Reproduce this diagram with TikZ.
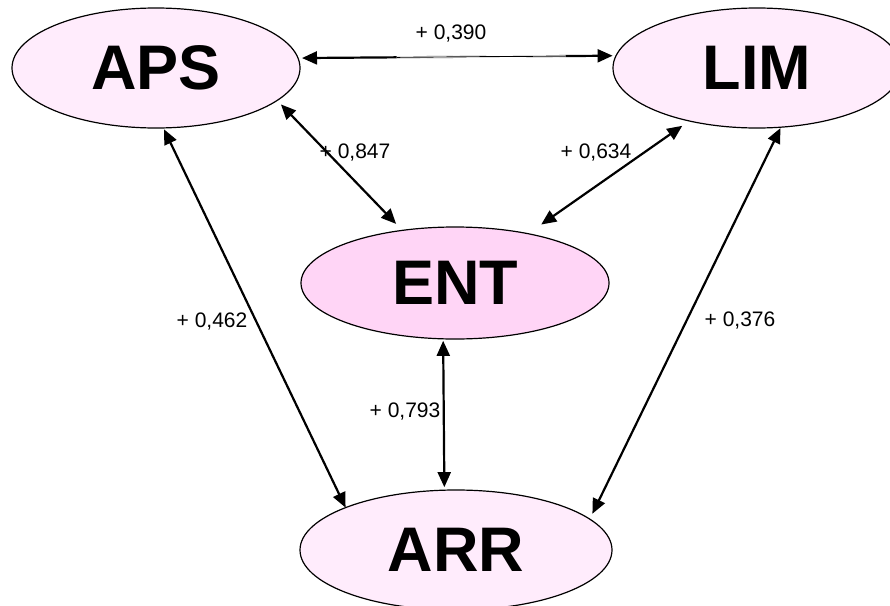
\documentclass[tikz,border=0pt]{standalone}
\usepackage{fontspec}
\setmainfont{Liberation Sans}
\usetikzlibrary{shapes.geometric,arrows.meta}
\definecolor{lightpink}{RGB}{255,236,252}
\definecolor{entpink}{RGB}{255,213,246}
\begin{document}
\begin{tikzpicture}[x=1pt,y=-1pt,
  var/.style={ellipse, draw, line width=1.2pt, inner sep=0pt, outer sep=0pt,
    font=\fontsize{63}{63}\selectfont\bfseries},
  conn/.style={{Triangle[length=15pt,width=13pt]}-{Triangle[length=15pt,width=13pt]},
    line width=2.2pt},
  lab/.style={font=\fontsize{21}{21}\selectfont, inner sep=0pt, text depth=0pt}]
\useasboundingbox (0,0) rectangle (890,605);
\fill[white] (0,0) rectangle (890,605);
% variables
\node[var, fill=lightpink, minimum width=288pt, minimum height=120pt] (APS) at (156,68) {APS};
\node[var, fill=lightpink, minimum width=288pt, minimum height=120pt] (LIM) at (757,68) {LIM};
\node[var, fill=entpink, minimum width=308pt, minimum height=112pt] (ENT) at (455,283) {ENT};
\node[var, fill=lightpink, minimum width=312pt, minimum height=120pt] (ARR) at (456,550) {ARR};
% connectors
\draw[conn, shorten <=4pt, shorten >=3.5pt] (APS.4.44) -- coordinate[pos=.31] (m1) coordinate[pos=.841] (m2) (LIM.175.56);
\draw[white, line width=2.8pt] (m1) -- (m2);
\draw[black, line width=0.9pt] (m1) -- (m2);
\draw[conn, shorten <=5.5pt, shorten >=9pt] (APS.-15.4) -- (ENT.135.05);
\draw[conn, shorten <=8.5pt, shorten >=16pt] (LIM.218.5) -- (ENT.34.6);
\draw[conn, shorten <=1.5pt, shorten >=0pt] (APS.-83.8) -- (ARR.159.3);
\draw[conn, shorten <=1pt, shorten >=6pt] (LIM.-68.6) -- (ARR.13.86);
\draw[conn, shorten <=2pt, shorten >=3pt] (ENT.258.8) -- (ARR.101.3);
% labels
\node[lab] (l1) at (451,32) {+ 0,390};
\node[lab] (l2) at (355,151) {+ 0,847};
\node[lab] (l3) at (596,151) {+ 0,634};
\node[lab] (l4) at (212,320) {+ 0,462};
\node[lab] (l5) at (740,319) {+ 0,376};
\node[lab] (l6) at (405,410) {+ 0,793};
\end{tikzpicture}
\end{document}
